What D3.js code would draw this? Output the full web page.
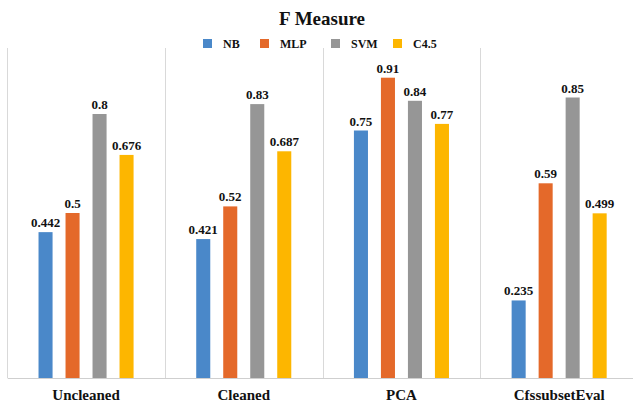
<!DOCTYPE html>
<html>
<head>
<meta charset="utf-8">
<script src="https://cdn.jsdelivr.net/npm/d3@7"></script>
<style>
  body { margin: 0; background: #fff; }
  text { font-family: "Liberation Serif", "DejaVu Serif", serif; font-weight: bold; fill: #111; }
</style>
</head>
<body>
<script>
// chart data
var categories = ["Uncleaned", "Cleaned", "PCA", "CfssubsetEval"];
var series = ["NB", "MLP", "SVM", "C4.5"];
var colors = ["#4a88c9", "#e4692a", "#969696", "#fdb600"];
var NB  = [0.442, 0.421, 0.75, 0.235];
var MLP = [0.5, 0.52, 0.91, 0.59];
var SVM = [0.8, 0.83, 0.84, 0.85];
var C45 = [0.676, 0.687, 0.77, 0.499];
var labels = [
    ["0.442", "0.5", "0.8", "0.676"],
    ["0.421", "0.52", "0.83", "0.687"],
    ["0.75", "0.91", "0.84", "0.77"],
    ["0.235", "0.59", "0.85", "0.499"]
];
var values = [NB, MLP, SVM, C45];

var width = 633, height = 406;
var svg = d3.select("body").append("svg")
    .attr("width", width)
    .attr("height", height);

var x0 = d3.scaleBand().domain(categories).range([7.2, 638]);
var x1 = d3.scaleBand().domain(series).range([0, x0.bandwidth()])
    .paddingInner(0.48).paddingOuter(1.16);
var y = d3.scaleLinear().domain([0, 1]).range([378, 48]);
var color = d3.scaleOrdinal().domain(series).range(colors);

//title
svg.append("text")
    .attr("x", 322).attr("y", 25)
    .attr("text-anchor", "middle")
    .style("font-size", "19px")
    .text("F Measure");

//legend
var legendX = [203, 260, 331, 393];
var lg = svg.selectAll(".legend").data(series).enter().append("g")
    .attr("transform", function (d, i) { return "translate(" + legendX[i] + ",39)"; });
lg.append("rect").attr("width", 9).attr("height", 9)
    .attr("fill", function (d) { return color(d); });
lg.append("text").attr("x", 20).attr("y", 9)
    .style("font-size", "12px")
    .text(function (d) { return d; });

//vertical grid lines between groups
svg.selectAll(".grid").data(categories).enter().append("line")
    .attr("x1", function (d) { return Math.round(x0(d)) + 0.5; })
    .attr("x2", function (d) { return Math.round(x0(d)) + 0.5; })
    .attr("y1", 48).attr("y2", 378)
    .attr("stroke", "#d9d9d9").attr("stroke-width", 1);

//bars
var rows = [];
categories.forEach(function (c, ci) {
    series.forEach(function (s, si) {
        rows.push({cat: c, ser: s, v: values[si][ci], label: labels[ci][si]});
    });
});

var g = svg.append("g");
g.selectAll("rect").data(rows).enter().append("rect")
    .attr("x", function (d) { return x0(d.cat) + x1(d.ser); })
    .attr("y", function (d) { return y(d.v); })
    .attr("width", x1.bandwidth())
    .attr("height", function (d) { return y(0) - y(d.v); })
    .attr("fill", function (d) { return color(d.ser); });

g.selectAll(".val").data(rows).enter().append("text")
    .attr("x", function (d) { return x0(d.cat) + x1(d.ser) + x1.bandwidth() / 2; })
    .attr("y", function (d) { return y(d.v) - 5; })
    .attr("text-anchor", "middle")
    .style("font-size", "13px")
    .text(function (d) { return d.label; });

//x axis
var xAxis = svg.append("g")
    .attr("transform", "translate(0,378)")
    .call(d3.axisBottom(x0).tickSize(0).tickPadding(11));
xAxis.select(".domain").attr("stroke", "#cfcfcf");
xAxis.selectAll("text")
    .style("font-size", "15px")
    .style("font-family", "'Liberation Serif', serif")
    .style("font-weight", "bold")
    .attr("fill", "#111");
</script>
</body>
</html>
